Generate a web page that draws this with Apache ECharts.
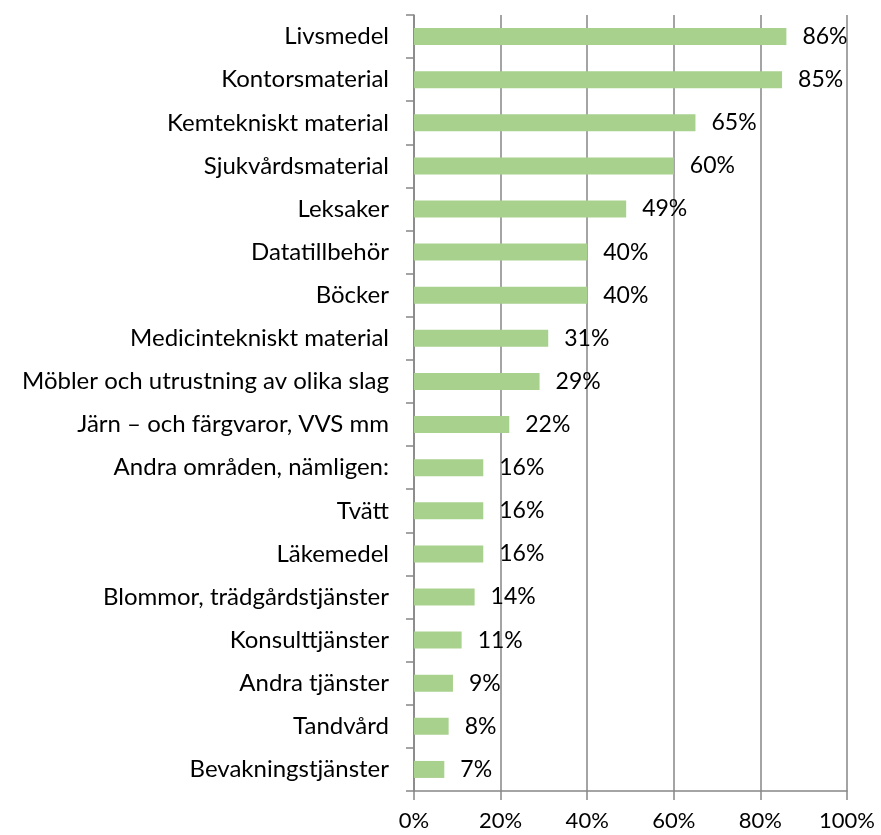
<!DOCTYPE html>
<html lang="sv">
<head>
    <meta charset="UTF-8">
    <title>Områden</title>
    <script src="https://cdn.jsdelivr.net/npm/echarts@6/dist/echarts.min.js"></script>
    <style>
        html, body { margin: 0; padding: 0; background: #fff; }
    </style>
</head>
<body>
<div id="main" style="width: 881px;height:835px;"></div>
<script type="text/javascript">
    // kategorier, uppifrån och ned
    var omraden = ['Livsmedel', 'Kontorsmaterial', 'Kemtekniskt material', 'Sjukvårdsmaterial',
        'Leksaker', 'Datatillbehör', 'Böcker', 'Medicintekniskt material',
        'Möbler och utrustning av olika slag', 'Järn – och färgvaror, VVS mm',
        'Andra områden, nämligen:', 'Tvätt', 'Läkemedel', 'Blommor, trädgårdstjänster',
        'Konsulttjänster', 'Andra tjänster', 'Tandvård', 'Bevakningstjänster'];
    var andel = [86, 85, 65, 60, 49, 40, 40, 31, 29, 22, 16, 16, 16, 14, 11, 9, 8, 7];
    var xTicks = [0, 20, 40, 60, 80, 100];

    var font = 'Lato, "Open Sans", sans-serif';
    var myChart = echarts.init(document.getElementById('main'));
    myChart.setOption({
        animation: false,
        grid: { left: 414, top: 15, width: 433, height: 776, containLabel: false },
        xAxis: {
            type: 'value',
            min: xTicks[0],
            max: xTicks[xTicks.length - 1],
            interval: 20,
            axisLine: { show: true, lineStyle: { color: '#868686', width: 1.5 } },
            axisTick: { show: true, length: 9, lineStyle: { color: '#868686', width: 1.5 } },
            splitLine: { show: true, lineStyle: { color: '#868686', width: 1.5 } },
            axisLabel: {
                margin: 19,
                color: '#000',
                fontSize: 22,
                fontFamily: font,
                formatter: function (v) { return v + '%'; }
            }
        },
        yAxis: {
            type: 'category',
            inverse: true,
            data: omraden,
            axisLine: { show: true, lineStyle: { color: '#868686', width: 1.5 } },
            axisTick: { show: true, length: 8, lineStyle: { color: '#868686', width: 1.5 } },
            axisLabel: {
                margin: 25,
                color: '#000',
                fontSize: 24,
                fontFamily: font
            }
        },
        series: [{
            type: 'bar',
            data: andel,
            barWidth: 17,
            itemStyle: { color: '#A9D18E' },
            label: {
                show: true,
                position: 'right',
                distance: 16,
                color: '#000',
                fontSize: 23,
                fontFamily: font,
                formatter: '{c}%'
            }
        }]
    });
</script>
</body>
</html>
